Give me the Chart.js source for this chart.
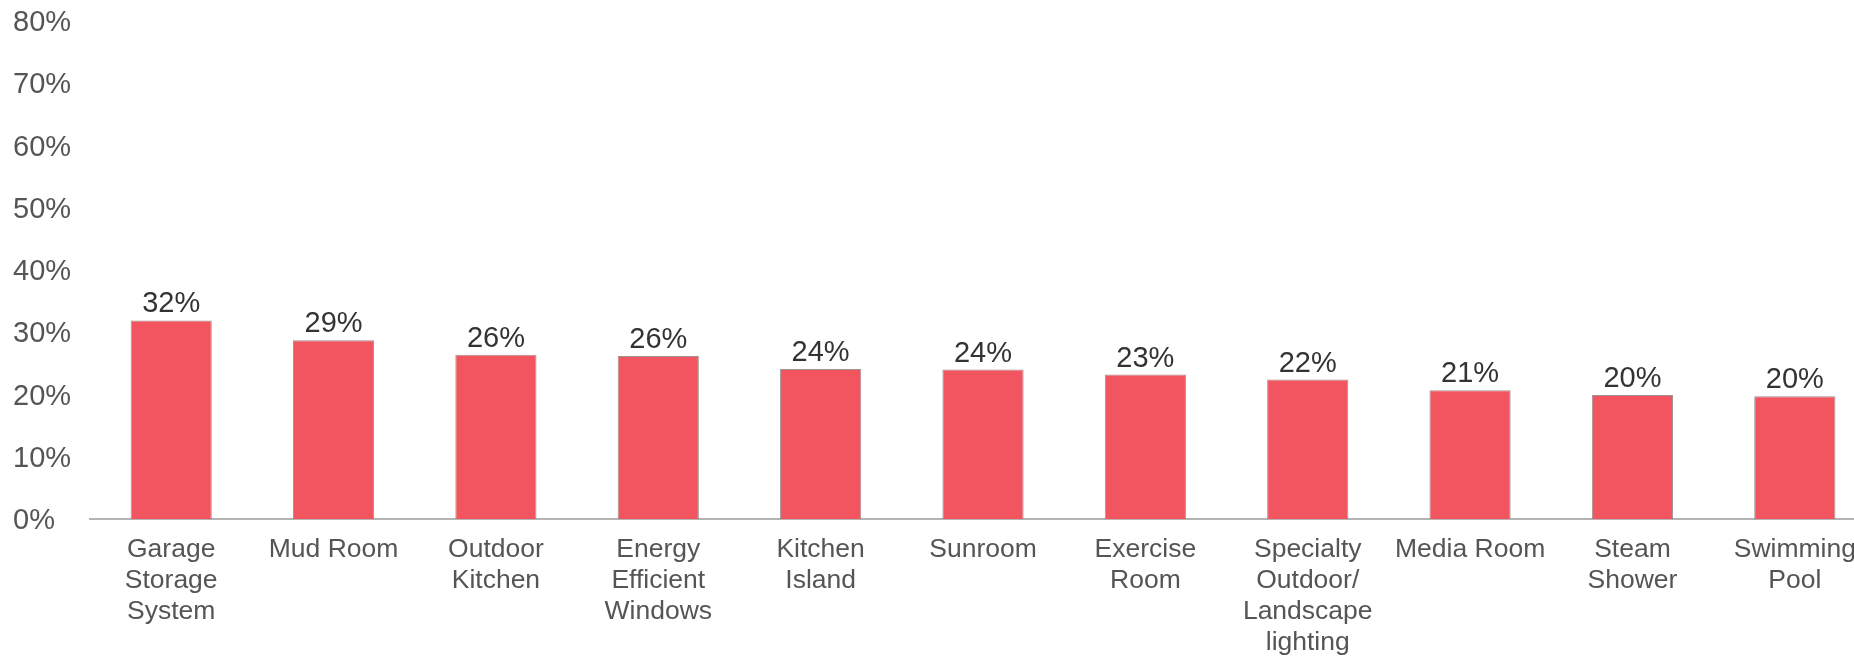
<!DOCTYPE html>
<html>
<head>
<meta charset="utf-8">
<script src="https://cdn.jsdelivr.net/npm/chart.js@4/dist/chart.umd.min.js"></script>
<style>
  html, body { margin: 0; padding: 0; background: #ffffff; overflow: hidden; }
  #wrap { width: 1876px; height: 657px; }
</style>
</head>
<body>
<div id="wrap"><canvas id="chart" width="1876" height="657"></canvas></div>
<script>
// Home features, share of respondents (%)
const categories = [
  ['Garage', 'Storage', 'System'],
  ['Mud Room'],
  ['Outdoor', 'Kitchen'],
  ['Energy', 'Efficient', 'Windows'],
  ['Kitchen', 'Island'],
  ['Sunroom'],
  ['Exercise', 'Room'],
  ['Specialty', 'Outdoor/', 'Landscape', 'lighting'],
  ['Media Room'],
  ['Steam', 'Shower'],
  ['Swimming', 'Pool']
];
const shares = [31.9, 28.7, 26.4, 26.2, 24.1, 24.0, 23.2, 22.4, 20.7, 19.9, 19.7];
const yTicks = [0, 10, 20, 30, 40, 50, 60, 70, 80];

const FONT = "'Liberation Sans', Arial, sans-serif";

// Percentage label above every bar, taken from the bar's own value
const valueLabels = {
  id: 'valueLabels',
  afterDatasetsDraw(chart) {
    const ctx = chart.ctx;
    const meta = chart.getDatasetMeta(0);
    const values = chart.data.datasets[0].data;
    ctx.save();
    ctx.font = '29px ' + FONT;
    ctx.fillStyle = '#333333';
    ctx.textAlign = 'center';
    ctx.textBaseline = 'alphabetic';
    meta.data.forEach((bar, i) => {
      ctx.fillText(Math.round(values[i]) + '%', bar.x, bar.y - 8);
    });
    ctx.restore();
  }
};

new Chart(document.getElementById('chart'), {
  type: 'bar',
  data: {
    labels: categories,
    datasets: [{
      data: shares,
      backgroundColor: '#F2555F',
      borderColor: 'rgba(130,110,110,0.75)',
      borderWidth: 1,
      categoryPercentage: 1.0,
      barPercentage: 0.5
    }]
  },
  options: {
    responsive: false,
    animation: false,
    layout: { padding: { left: 13, right: 0, top: 21, bottom: 0 } },
    plugins: {
      legend: { display: false },
      tooltip: { enabled: false }
    },
    scales: {
      x: {
        grid: { display: false, drawTicks: false },
        border: { display: true, color: '#b4b4b4', width: 2 },
        ticks: {
          color: '#555555',
          font: { family: FONT, size: 26.5, lineHeight: '31px' },
          padding: 15,
          maxRotation: 0,
          minRotation: 0,
          autoSkip: false
        },
        afterFit(scale) { scale.height = 138; }
      },
      y: {
        min: 0,
        max: 80,
        afterBuildTicks(scale) { scale.ticks = yTicks.map(v => ({ value: v })); },
        grid: { display: false, drawTicks: false },
        border: { display: false },
        ticks: {
          color: '#555555',
          font: { family: FONT, size: 29 },
          crossAlign: 'far',
          padding: 0,
          labelOffset: 2,
          callback: v => v + '%'
        },
        afterFit(scale) { scale.width = 77; }
      }
    }
  },
  plugins: [valueLabels]
});
</script>
</body>
</html>
